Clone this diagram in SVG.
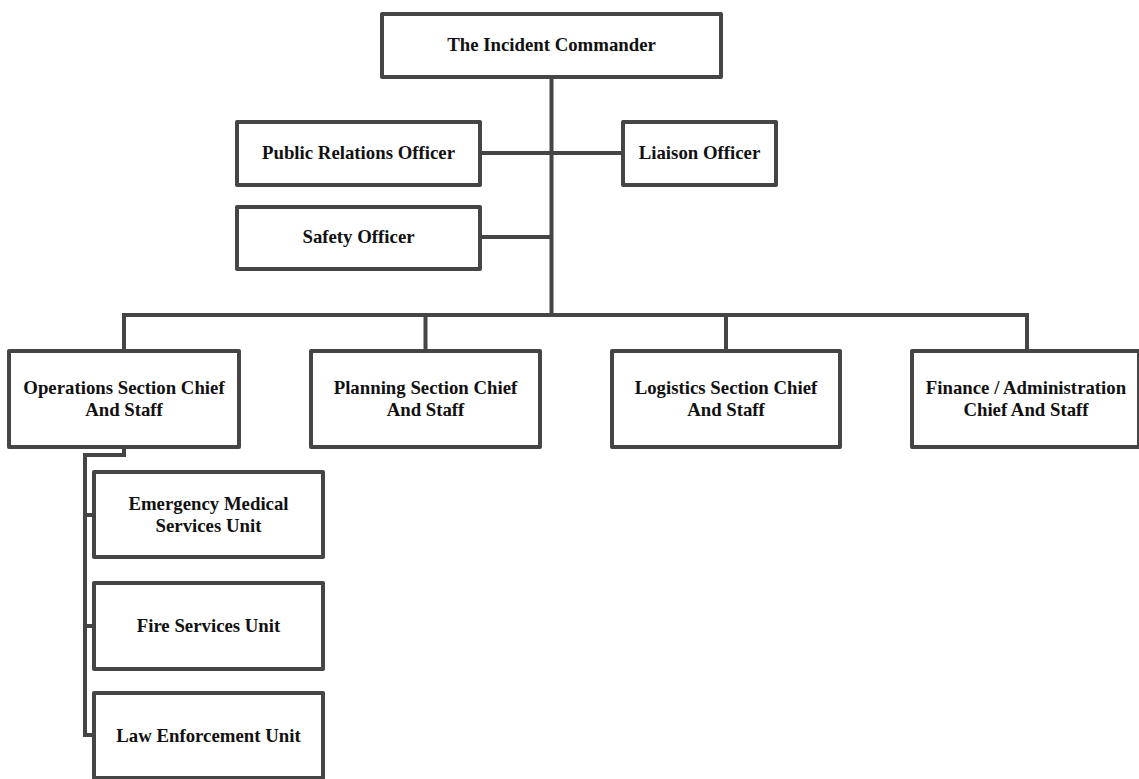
<svg xmlns="http://www.w3.org/2000/svg" width="1139" height="779" viewBox="0 0 1139 779">
<style>
.box{fill:#ffffff;stroke:#454545;stroke-width:4;stroke-linejoin:round}
.ln{fill:none;stroke:#454545;stroke-width:4;stroke-linejoin:miter}
.t{font-family:"Liberation Serif","DejaVu Serif",serif;font-weight:bold;font-size:18.8px;fill:#111111;text-anchor:middle}
</style>
<rect width="1139" height="779" fill="#ffffff"/>
<g id="connectors">
<path class="ln" d="M551.5 77 V315"/>
<path class="ln" d="M480 153 H623"/>
<path class="ln" d="M480 237 H551.5"/>
<path class="ln" d="M124 351 V315 H1027 V351"/>
<path class="ln" d="M425.5 315 V351"/>
<path class="ln" d="M726 315 V351"/>
<path class="ln" d="M124 447 V455 H85 V735 H94"/>
<path class="ln" d="M85 515 H94"/>
<path class="ln" d="M85 626 H94"/>
</g>
<g id="commander">
<rect class="box" x="382" y="14" width="339" height="63"/>
<text class="t" x="551.5" y="51">The Incident Commander</text>
</g>
<g id="public-relations">
<rect class="box" x="237" y="122" width="243" height="63"/>
<text class="t" x="358.5" y="159">Public Relations Officer</text>
</g>
<g id="liaison">
<rect class="box" x="623" y="122" width="153" height="63"/>
<text class="t" x="699.5" y="159">Liaison Officer</text>
</g>
<g id="safety">
<rect class="box" x="237" y="207" width="243" height="62"/>
<text class="t" x="358.5" y="243">Safety Officer</text>
</g>
<g id="operations">
<rect class="box" x="9" y="351" width="230" height="96"/>
<text class="t" x="124" y="394">Operations Section Chief</text>
<text class="t" x="124" y="416">And Staff</text>
</g>
<g id="planning">
<rect class="box" x="311" y="351" width="229" height="96"/>
<text class="t" x="425.5" y="394">Planning Section Chief</text>
<text class="t" x="425.5" y="416">And Staff</text>
</g>
<g id="logistics">
<rect class="box" x="612" y="351" width="228" height="96"/>
<text class="t" x="726" y="394">Logistics Section Chief</text>
<text class="t" x="726" y="416">And Staff</text>
</g>
<g id="finance">
<rect class="box" x="912" y="351" width="227" height="96"/>
<text class="t" x="1026" y="394">Finance / Administration</text>
<text class="t" x="1026" y="416">Chief And Staff</text>
</g>
<g id="ems">
<rect class="box" x="94" y="472" width="229" height="85"/>
<text class="t" x="208.5" y="510">Emergency Medical</text>
<text class="t" x="208.5" y="532">Services Unit</text>
</g>
<g id="fire">
<rect class="box" x="94" y="583" width="229" height="86"/>
<text class="t" x="208.5" y="632">Fire Services Unit</text>
</g>
<g id="law">
<rect class="box" x="94" y="693" width="229" height="85"/>
<text class="t" x="208.5" y="742">Law Enforcement Unit</text>
</g>
</svg>
